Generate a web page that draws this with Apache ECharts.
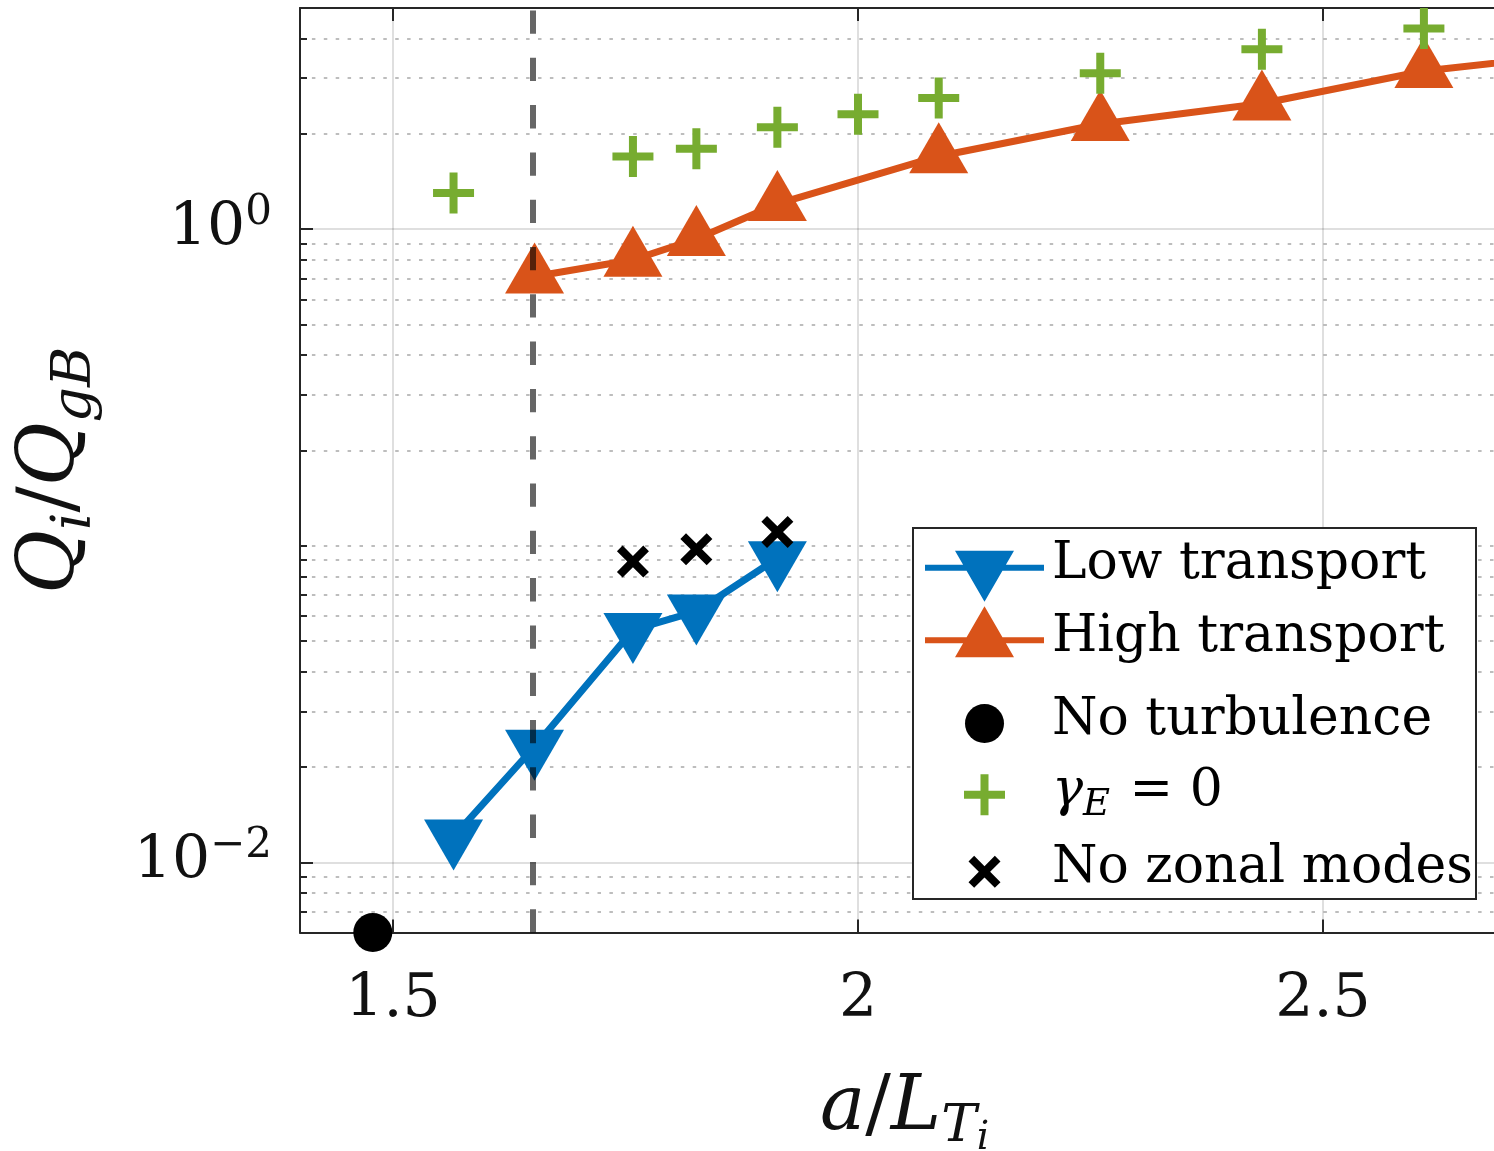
<!DOCTYPE html>
<html><head><meta charset="utf-8">
<script src="https://cdn.jsdelivr.net/npm/echarts@6/dist/echarts.min.js"></script>
<style>html,body{margin:0;padding:0;background:#fff}#c{width:1494px;height:1151px}</style>
</head><body><div id="c"></div>
<script>
// ---------------- data ----------------
const xLow = [1.5651, 1.6522, 1.7580, 1.8262, 1.9133];
const yLow = [0.01206, 0.02317, 0.0542, 0.0620, 0.0913];
const xHigh = [1.6522, 1.7580, 1.8262, 1.9133, 2.0868, 2.2605, 2.4343, 2.6085, 2.7826];
const yHigh = [0.709, 0.801, 0.931, 1.202, 1.701, 2.150, 2.496, 3.162, 3.6];
const xNoTurb = [1.4783];
const yNoTurb = [0.006];
const xGammaE0 = [1.5651, 1.7580, 1.8262, 1.9133, 2.0000, 2.0868, 2.2605, 2.4343, 2.6085];
const yGammaE0 = [1.302, 1.698, 1.796, 2.101, 2.308, 2.600, 3.111, 3.704, 4.307];
const xNoZonal = [1.7580, 1.8262, 1.9133];
const yNoZonal = [0.0891, 0.0975, 0.1105];
const thresholdX = [1.65];
const xTicks = [1.5, 2, 2.5];
const yMajorTicks = [0.01, 1];
const yMinorTicks = [0.007, 0.008, 0.009, 0.02, 0.03, 0.04, 0.05, 0.06, 0.07, 0.08, 0.09,
  0.1, 0.2, 0.3, 0.4, 0.5, 0.6, 0.7, 0.8, 0.9, 2, 3, 4];
const xRange = [1.4, 2.7];
const yRange = [0.006, 5];
const names = ['Low transport', 'High transport', 'No turbulence', 'γ_E = 0', 'No zonal modes'];

// ---------------- style ----------------
const FONT = 'DejaVu Serif';
const AX = '#262626';
const BLUE = '#0072BD', ORANGE = '#D95319', GREEN = '#77AC30';
const PLUS = 'path://M16.5,0H24.5V16.5H41V24.5H24.5V41H16.5V24.5H0V16.5H16.5Z';
const CROSS = 'path://M0,17.7L17.7,0L50,32.3L82.3,0L100,17.7L67.7,50L100,82.3L82.3,100L50,67.7L17.7,100L0,82.3L32.3,50Z';
// legend icons (119 px wide boxes, symmetric about the row centre)
const LEG_DOWN = 'path://M0,0L0,0 M0,31H119V37H0Z M30,17H89L59.5,68Z';
const LEG_UP = 'path://M0,31H119V37H0Z M59.5,0L89,51H30Z M119,68L119,68';
const LEG_DOT = 'path://M0,0L0,0 M119,39L119,39 M40,19.5A19.5,19.5 0 1 1 79,19.5A19.5,19.5 0 1 1 40,19.5Z';
const LEG_PLUS = 'path://M0,0L0,0 M119,41L119,41 M55.5,0H63.5V16.5H80V24.5H63.5V41H55.5V24.5H39V16.5H55.5Z';
const LEG_CROSS = 'path://M0,0L0,0 M119,32L119,32 M43.5,5.66L49.16,0L59.5,10.34L69.84,0L75.5,5.66L65.16,16L75.5,26.34L69.84,32L59.5,21.66L49.16,32L43.5,26.34L53.84,16Z';
const pairs = (xs, ys) => xs.map((x, i) => [x, ys[i]]);

const chart = echarts.init(document.getElementById('c'));

function legendRow(name, centerY, h, icon, fmt) {
  const base = { fontFamily: FONT, fontSize: 52, color: '#000', lineHeight: 18, padding: [0, 0, 6, 3] };
  return {
    data: [{ name: name, icon: icon }],
    left: 925, top: centerY - h / 2, orient: 'vertical', padding: 0,
    itemWidth: 119, itemHeight: h, symbolKeepAspect: true,
    selectedMode: false,
    itemStyle: { borderWidth: 0 },
    textStyle: {
      fontFamily: FONT, fontSize: 52, color: '#000', lineHeight: 18,
      rich: {
        t: base,
        gi: Object.assign({}, base, { fontStyle: 'italic' }),
        gs: { fontFamily: FONT, fontSize: 37, fontStyle: 'italic', color: '#000', lineHeight: 12,
              padding: [21, 0, 0, 0] }
      }
    },
    formatter: fmt || (n => '{t|' + n + '}')
  };
}

const option = {
  animation: false,
  backgroundColor: '#fff',
  textStyle: { fontFamily: FONT },
  grid: { left: 300, top: 8, right: -15, bottom: 218.5, show: false, outerBoundsMode: 'none', containLabel: false },
  xAxis: [{
    type: 'value', min: xRange[0], max: xRange[1], position: 'bottom',
    axisLine: { show: true, onZero: false, lineStyle: { color: AX, width: 2 } },
    axisTick: { show: true, inside: true, length: 13, customValues: xTicks, lineStyle: { color: AX, width: 2 } },
    axisLabel: { show: true, customValues: xTicks, margin: 38, fontFamily: FONT, fontSize: 60, color: '#111',
                 formatter: v => String(v) },
    splitLine: { show: true, lineStyle: { color: 'rgba(38,38,38,0.15)', width: 2 } },
    name: '{i|a}{n|/}{i|L}{s|T}{ss|i}',
    nameLocation: 'middle', nameGap: 127, nameMoveOverlap: false,
    nameTextStyle: {
      rich: {
        i: { fontFamily: FONT, fontSize: 76, fontStyle: 'italic', color: '#111' },
        n: { fontFamily: FONT, fontSize: 76, color: '#111' },
        s: { fontFamily: FONT, fontSize: 53, fontStyle: 'italic', color: '#111', padding: [36, 0, 0, 0] },
        ss: { fontFamily: FONT, fontSize: 39, fontStyle: 'italic', color: '#111', padding: [60, 0, 0, 0] }
      }
    }
  }, {
    type: 'value', min: xRange[0], max: xRange[1], position: 'top',
    axisLine: { show: true, onZero: false, lineStyle: { color: AX, width: 2 } },
    axisTick: { show: true, inside: true, length: 13, customValues: xTicks, lineStyle: { color: AX, width: 2 } },
    axisLabel: { show: false },
    splitLine: { show: false }
  }],
  yAxis: [{
    type: 'log', logBase: 10, min: yRange[0], max: yRange[1], position: 'left',
    axisLine: { show: true, onZero: false, lineStyle: { color: AX, width: 2 } },
    axisTick: { show: true, inside: true, length: 13, customValues: yMajorTicks, lineStyle: { color: AX, width: 2 } },
    axisLabel: {
      show: true, customValues: yMajorTicks, margin: 28,
      formatter: v => {
        const e = Math.round(Math.log10(v));
        return '{b|10}{p|' + (e < 0 ? '−' + (-e) : String(e)) + '}';
      },
      rich: {
        b: { fontFamily: FONT, fontSize: 60, color: '#111' },
        p: { fontFamily: FONT, fontSize: 42, color: '#111', padding: [0, 0, 33, 0] }
      }
    },
    splitLine: { show: true, lineStyle: { color: 'rgba(38,38,38,0.15)', width: 2 } },
    name: '{i|Q}{s|i}{n|/}{i|Q}{s|gB}',
    nameLocation: 'middle', nameRotate: 90, nameGap: 197, nameMoveOverlap: false,
    nameTextStyle: {
      rich: {
        i: { fontFamily: FONT, fontSize: 78, fontStyle: 'italic', color: '#111' },
        n: { fontFamily: FONT, fontSize: 78, color: '#111' },
        s: { fontFamily: FONT, fontSize: 55, fontStyle: 'italic', color: '#111', padding: [46, 0, 0, 0] }
      }
    }
  }, {
    type: 'log', logBase: 10, min: yRange[0], max: yRange[1], position: 'left',
    axisLine: { show: false },
    axisTick: { show: true, inside: true, length: 7, customValues: yMinorTicks, lineStyle: { color: AX, width: 2 } },
    axisLabel: { show: false },
    splitLine: { show: true, lineStyle: { color: 'rgba(38,38,38,0.3)', width: 2, type: [3.5, 8.4] } }
  }],
  graphic: [{
    type: 'rect', z: 3, silent: true,
    shape: { x: 913, y: 528, width: 563, height: 371 },
    style: { fill: '#fff', stroke: AX, lineWidth: 2 }
  }],
  legend: [
    legendRow(names[0], 567.7, 68, LEG_DOWN),
    legendRow(names[1], 640.3, 68, LEG_UP),
    legendRow(names[2], 714, 39, LEG_DOT),
    legendRow(names[3], 786.3, 41, LEG_PLUS, () => '{gi|γ}{gs|E}{t| = 0}'),
    legendRow(names[4], 858.8, 32, LEG_CROSS)
  ],
  series: [{
    name: names[0], type: 'line', data: pairs(xLow, yLow),
    xAxisIndex: 0, yAxisIndex: 0, z: 2, clip: true,
    lineStyle: { color: BLUE, width: 7 }, itemStyle: { color: BLUE, borderWidth: 0, opacity: 1 },
    symbol: 'triangle', symbolSize: [59, 51], symbolRotate: 180, symbolOffset: [0, 8.5],
    showAllSymbol: true, emphasis: { disabled: true }
  }, {
    name: names[1], type: 'line', data: pairs(xHigh, yHigh),
    xAxisIndex: 0, yAxisIndex: 0, z: 2, clip: true,
    lineStyle: { color: ORANGE, width: 7 }, itemStyle: { color: ORANGE, borderWidth: 0, opacity: 1 },
    symbol: 'triangle', symbolSize: [59, 51], symbolOffset: [0, -8.5],
    showAllSymbol: true, emphasis: { disabled: true }
  }, {
    name: names[2], type: 'scatter', data: pairs(xNoTurb, yNoTurb),
    xAxisIndex: 0, yAxisIndex: 0, z: 3, clip: false,
    symbol: 'circle', symbolSize: 39, itemStyle: { color: '#000', opacity: 1 }, emphasis: { disabled: true }
  }, {
    name: names[3], type: 'scatter', data: pairs(xGammaE0, yGammaE0),
    xAxisIndex: 0, yAxisIndex: 0, z: 3,
    symbol: PLUS, symbolSize: 41, itemStyle: { color: GREEN, opacity: 1 }, emphasis: { disabled: true }
  }, {
    name: names[4], type: 'scatter', data: pairs(xNoZonal, yNoZonal),
    xAxisIndex: 0, yAxisIndex: 0, z: 3,
    symbol: CROSS, symbolSize: 32, itemStyle: { color: '#000', opacity: 1 }, emphasis: { disabled: true }
  }, {
    name: 'threshold', type: 'line', data: [], xAxisIndex: 0, yAxisIndex: 0, z: 4,
    markLine: {
      silent: true, symbol: ['none', 'none'], label: { show: false }, animation: false,
      lineStyle: { color: 'rgba(0,0,0,0.6)', width: 6, type: [23.3, 24] },
      emphasis: { disabled: true },
      data: thresholdX.map(x => ({ xAxis: x }))
    }
  }]
};
chart.setOption(option);
</script>
</body></html>
